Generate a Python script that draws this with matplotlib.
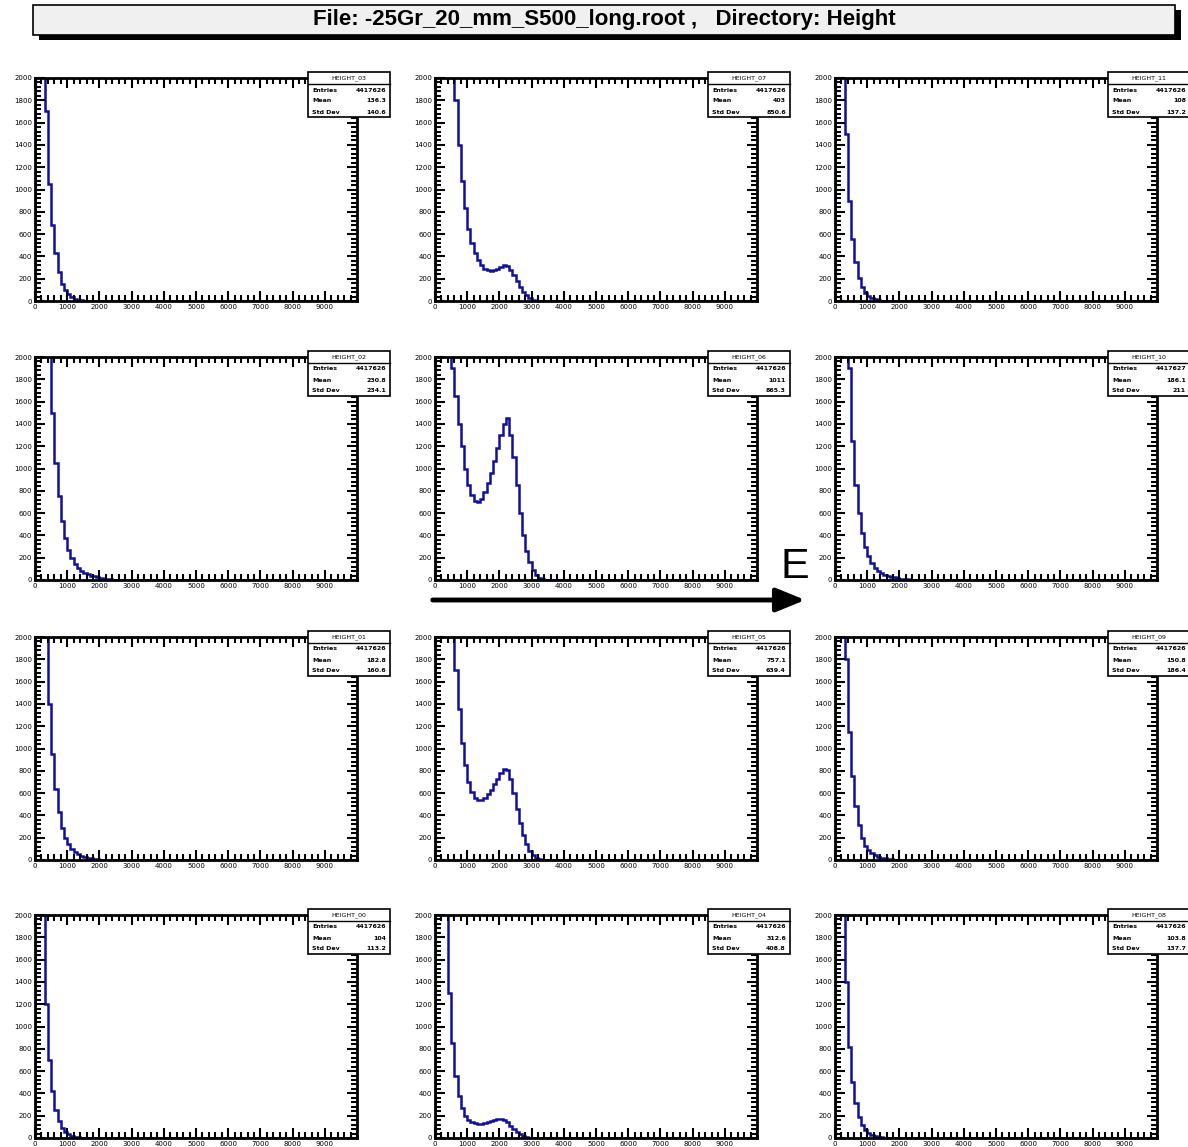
import numpy as np
import matplotlib.pyplot as plt
from matplotlib.patches import Rectangle, FancyArrowPatch
from matplotlib.ticker import MultipleLocator

W, H = 1188, 1147
bin_width = 100
n_bins = 100

# counts per 100-wide bin, starting at 0 (clipped at 2000 in the frame)
h03 = [9000, 8000, 3000, 1700, 1050, 680, 430, 260, 150, 95, 60, 35, 20, 10, 5, 2, 1]
h07 = [9000, 9000, 8000, 6000, 3500, 2200, 1800, 1400, 1080, 830, 650, 520, 430, 370, 320,
       290, 275, 270, 275, 290, 305, 320, 310, 280, 230, 180, 130, 85, 50, 25, 10, 4]
h11 = [9000, 7000, 2600, 1500, 900, 560, 350, 210, 125, 75, 45, 26, 15, 8, 4, 2]
h02 = [9000, 8000, 6000, 3500, 2200, 1500, 1050, 750, 530, 380, 270, 195, 140, 105, 80,
       62, 50, 40, 32, 25, 18, 12, 8, 5, 3, 2, 1]
h06 = [9000, 9000, 8000, 6000, 2100, 1900, 1650, 1400, 1200, 1000, 850, 760, 710, 700, 730,
       790, 870, 960, 1070, 1180, 1300, 1400, 1450, 1300, 1100, 850, 600, 400, 260, 160,
       90, 45, 20, 8, 3]
h10 = [9000, 8000, 5000, 3000, 1900, 1250, 850, 600, 420, 300, 215, 155, 112, 82, 62,
       48, 38, 30, 23, 17, 12, 8, 5, 3, 1]
h01 = [9000, 8000, 4000, 2000, 1400, 950, 640, 430, 290, 200, 140, 100, 72, 52, 38, 28,
       20, 14, 10, 6, 4, 2]
h05 = [9000, 9000, 8000, 6000, 3000, 2100, 1700, 1350, 1050, 850, 700, 610, 560, 535, 540,
       560, 590, 630, 680, 730, 780, 820, 810, 730, 600, 460, 330, 220, 140, 85, 45, 20, 8, 3]
h09 = [9000, 7500, 3500, 1800, 1150, 750, 480, 310, 200, 130, 88, 60, 42, 30, 21, 15,
       10, 6, 4, 2, 1]
h00 = [9000, 6000, 2300, 1200, 700, 420, 250, 150, 90, 55, 32, 18, 10, 5, 2]
h04 = [9000, 9000, 9000, 2200, 1300, 850, 560, 380, 270, 200, 165, 145, 135, 130, 130,
       135, 140, 150, 160, 168, 170, 160, 140, 110, 80, 55, 32, 18, 8, 3]
h08 = [9000, 7000, 2500, 1400, 820, 500, 310, 190, 115, 70, 43, 27, 17, 10, 6, 3, 1]

names = ["HEIGHT_03", "HEIGHT_07", "HEIGHT_11",
         "HEIGHT_02", "HEIGHT_06", "HEIGHT_10",
         "HEIGHT_01", "HEIGHT_05", "HEIGHT_09",
         "HEIGHT_00", "HEIGHT_04", "HEIGHT_08"]
entries = ["4417626", "4417626", "4417626",
           "4417626", "4417626", "4417627",
           "4417626", "4417626", "4417626",
           "4417626", "4417626", "4417626"]
means = ["136.3", "403", "108",
         "230.8", "1011", "186.1",
         "182.8", "757.1", "150.8",
         "104", "312.6", "103.8"]
std_devs = ["140.6", "850.6", "137.2",
            "234.1", "865.3", "211",
            "160.6", "639.4", "186.4",
            "113.2", "408.8", "137.7"]
histos = [h03, h07, h11, h02, h06, h10, h01, h05, h09, h00, h04, h08]

title_text = "File: -25Gr_20_mm_S500_long.root ,   Directory: Height"
xticks = list(range(0, 10000, 1000))
yticks = list(range(0, 2001, 200))

line_color = "#10109a"

col_left = [35, 435, 835]
row_top = [78, 357, 637, 915]
ax_w, ax_h = 322, 223


def fx(x):
    return x / W


def fy(y):
    return 1 - y / H


fig = plt.figure(figsize=(W / 100, H / 100), dpi=100)

# title box with shadow
fig.add_artist(Rectangle((fx(39), fy(40)), fx(1142), 30 / H, transform=fig.transFigure,
                         facecolor="black", edgecolor="none"))
fig.add_artist(Rectangle((fx(33), fy(35)), fx(1142), 30 / H, transform=fig.transFigure,
                         facecolor="#f0f0f0", edgecolor="black", lw=1.2))
fig.text(fx(604), fy(19), title_text, ha="center", va="center", fontsize=16,
         fontweight="bold", family=["Liberation Sans Narrow", "Liberation Sans", "DejaVu Sans"])

edges = np.arange(n_bins + 1) * bin_width

for i, counts in enumerate(histos):
    r, c = divmod(i, 3)
    left, top = col_left[c], row_top[r]
    ax = fig.add_axes([fx(left), fy(top + ax_h), ax_w / W, ax_h / H])
    vals = np.zeros(n_bins)
    vals[:len(counts)] = counts
    ax.stairs(vals, edges, color=line_color, lw=1.8)
    ax.set_xlim(0, 10000)
    ax.set_ylim(0, 2000)
    ax.set_xticks(xticks)
    ax.set_yticks(yticks)
    ax.xaxis.set_minor_locator(MultipleLocator(200))
    ax.yaxis.set_minor_locator(MultipleLocator(40))
    ax.tick_params(which="both", direction="in", top=True, right=True, width=1.5,
                   labelsize=5, pad=2)
    ax.tick_params(which="major", length=7)
    ax.tick_params(which="minor", length=4)
    for s in ax.spines.values():
        s.set_linewidth(2)

    # stats box
    bx, by = left + 273, top - 6
    bw, bh = 82, 45
    fig.add_artist(Rectangle((fx(bx), fy(by + bh)), bw / W, bh / H, transform=fig.transFigure,
                             facecolor="white", edgecolor="black", lw=1.2, zorder=5))
    fig.add_artist(plt.Line2D([fx(bx), fx(bx + bw)], [fy(by + 12), fy(by + 12)],
                              transform=fig.transFigure, color="black", lw=1, zorder=6))
    fig.text(fx(bx + bw / 2), fy(by + 6), names[i], ha="center", va="center",
             fontsize=4.5, zorder=7)
    for k, (lab, val) in enumerate([("Entries", entries[i]), ("Mean", means[i]),
                                    ("Std Dev", std_devs[i])]):
        yy = fy(by + 18 + k * 11)
        fig.text(fx(bx + 4), yy, lab, ha="left", va="center", fontsize=4.5,
                 fontweight="bold", zorder=7)
        fig.text(fx(bx + bw - 4), yy, val, ha="right", va="center", fontsize=4.5,
                 fontweight="bold", zorder=7)

# energy arrow
fig.add_artist(FancyArrowPatch((fx(430), fy(600)), (fx(808), fy(600)), transform=fig.transFigure,
                               arrowstyle="-|>,head_length=1.1,head_width=0.45",
                               mutation_scale=16, color="black", lw=3.5))
fig.text(fx(795), fy(567), "E", ha="center", va="center", fontsize=31,
         family=["Liberation Sans", "DejaVu Sans"])

fig.savefig("out.png", dpi=100)
